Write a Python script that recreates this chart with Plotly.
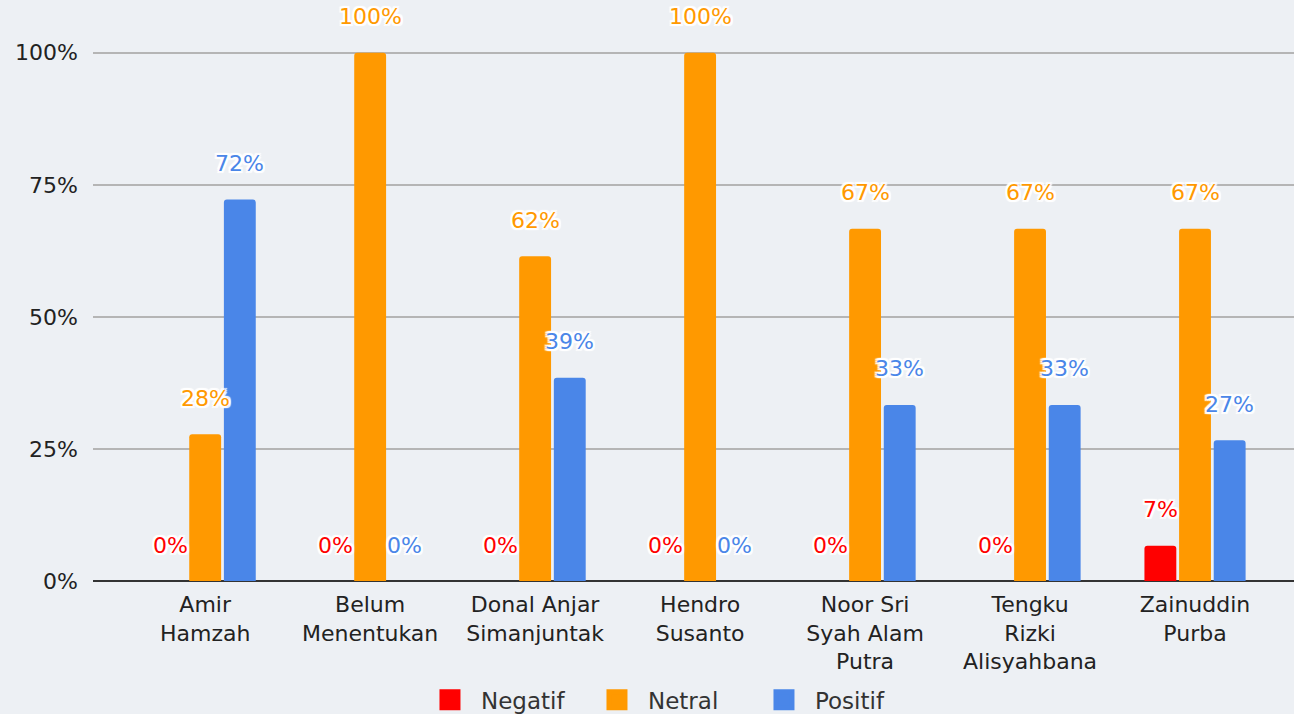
import plotly.graph_objects as go

categories = [
    "Amir<br>Hamzah",
    "Belum<br>Menentukan",
    "Donal Anjar<br>Simanjuntak",
    "Hendro<br>Susanto",
    "Noor Sri<br>Syah Alam<br>Putra",
    "Tengku<br>Rizki<br>Alisyahbana",
    "Zainuddin<br>Purba",
]
negatif = [0, 0, 0, 0, 0, 0, 6.67]
netral = [27.78, 100, 61.5, 100, 66.67, 66.67, 66.67]
positif = [72.22, 0, 38.5, 0, 33.33, 33.33, 26.67]

series = [
    ("Negatif", negatif, "#ff0000"),
    ("Netral", netral, "#ff9900"),
    ("Positif", positif, "#4a86e8"),
]

FONT = "DejaVu Sans"
BARGAP = 0.37
OUTLINE = ", ".join(
    f"white {dx}px {dy}px 1px"
    for dx in (-2, 0, 2)
    for dy in (-2, 0, 2)
    if dx or dy
)

width, height = 1294, 714
margin = dict(l=93, r=0, t=10, b=133)
x_range = [-0.68, 6.6]
plot_w = width - margin["l"] - margin["r"]
cat_px = plot_w / (x_range[1] - x_range[0])
slot_px = cat_px * (1 - BARGAP) / len(series)

fig = go.Figure()
annotations = []
for i, (name, values, color) in enumerate(series):
    fig.add_bar(
        x=categories,
        y=values,
        name=name,
        marker_color=color,
        marker_line_width=0,
        showlegend=False,
    )
    # legend entry with a bigger square swatch
    fig.add_scatter(
        x=[None],
        y=[None],
        mode="markers",
        name=name,
        marker=dict(symbol="square", size=16, color=color,
                    line=dict(color=color, width=5)),
    )
    for cat, v in zip(categories, values):
        annotations.append(
            dict(
                x=cat,
                y=v,
                text=f"{int(v + 0.5)}%",
                showarrow=False,
                xshift=(i - 1) * slot_px,
                yshift=36,
                yanchor="middle",
                font=dict(family=FONT, size=22, color=color, shadow=OUTLINE),
            )
        )

fig.update_layout(
    width=width,
    height=height,
    margin=margin,
    paper_bgcolor="#edf0f4",
    plot_bgcolor="rgba(0,0,0,0)",
    barmode="group",
    bargap=BARGAP,
    bargroupgap=0.08,
    barcornerradius=3,
    font=dict(family=FONT, size=22, color="#222222"),
    annotations=annotations,
    showlegend=True,
    legend=dict(
        orientation="h",
        x=0.48,
        xanchor="center",
        yref="container",
        y=0.02,
        yanchor="middle",
        font=dict(size=23, color="#333333"),
        itemwidth=52,
        entrywidth=100,
        bgcolor="rgba(0,0,0,0)",
    ),
    xaxis=dict(
        range=x_range,
        showgrid=False,
        ticks="",
        ticklabelstandoff=8,
        automargin=False,
        tickfont=dict(size=22, color="#222222"),
    ),
    yaxis=dict(
        range=[0, 108.1],
        tickvals=[0, 25, 50, 75, 100],
        ticktext=["0%", "25%", "50%", "75%", "100%"],
        showgrid=True,
        gridcolor="#b5b5b5",
        gridwidth=1.5,
        zeroline=True,
        zerolinecolor="#333333",
        zerolinewidth=2,
        ticks="",
        ticklabelstandoff=14,
        automargin=False,
        tickfont=dict(size=22, color="#222222"),
    ),
)

fig.write_html(
    "out.html",
    config={"displayModeBar": False},
    post_script="document.body.style.margin='0';document.body.style.overflow='hidden';",
)
